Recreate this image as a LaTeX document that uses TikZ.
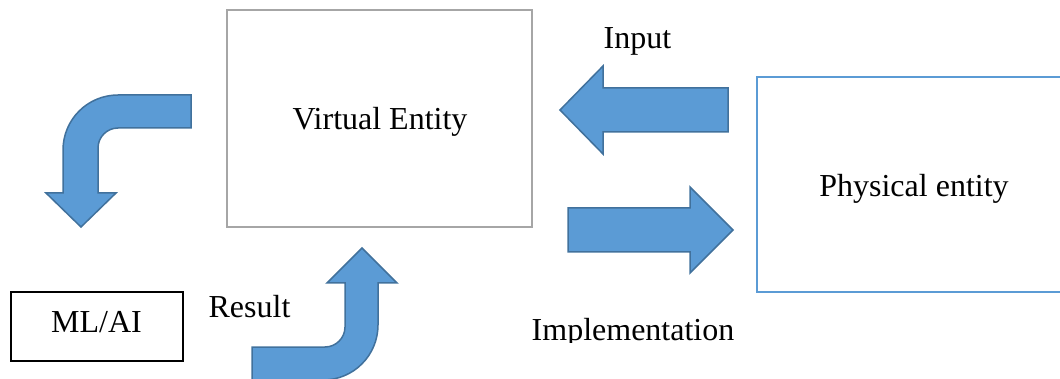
\documentclass[tikz,border=0pt]{standalone}
\usepackage{fontspec}
\setmainfont{Liberation Serif}
\definecolor{arrfill}{HTML}{5B9BD5}
\definecolor{arrline}{HTML}{41719C}
\definecolor{boxgray}{HTML}{A6A6A6}
\definecolor{boxblue}{HTML}{5B9BD5}
\begin{document}
\begin{tikzpicture}[x=1pt,y=-1pt,
  lbl/.style={font=\fontsize{32}{38}\selectfont, inner sep=0pt},
  blockarrow/.style={fill=arrfill, draw=arrline, line width=1.5pt, line join=miter},
  entitybox/.style={draw, inner sep=0pt}]
\useasboundingbox (0,0) rectangle (1060,379);
% boxes
\node[entitybox, draw=boxgray, line width=2.5pt, minimum width=305pt, minimum height=217pt] (virt) at (379.5,118.5) {};
\node[entitybox, draw=boxblue, line width=2.5pt, minimum width=314pt, minimum height=215pt] (phys) at (914,184.5) {};
\node[entitybox, draw=black, line width=1.5pt, minimum width=172pt, minimum height=69pt] (ml) at (97,326.5) {};
% box texts
\node[lbl, anchor=base] (virttext) at (380,130) {Virtual Entity};
\node[lbl, anchor=base] (phystext) at (914,197) {Physical entity};
\node[lbl, anchor=base] (mltext) at (96.5,332) {ML/AI};
% labels
\node[lbl, anchor=base] (input) at (637.5,49) {Input};
\node[lbl, anchor=base] (result) at (249.5,318) {Result};
\begin{scope}
\clip (500,300) rectangle (760,342);
\node[lbl, anchor=base] (impl) at (633,340) {Implementation};
\end{scope}
% straight block arrows
\draw[blockarrow] (728,88) -- (603,88) -- (603,66) -- (560,110) -- (603,154) -- (603,132) -- (728,132) -- cycle;
\draw[blockarrow] (568,208) -- (690,208) -- (690,187) -- (733,230) -- (690,273) -- (690,252) -- (568,252) -- cycle;
% bent arrow top-left
\draw[blockarrow] (191,95) -- (118,95) .. controls (87.6,95) and (63,119.6) .. (63,150)
  -- (63,193) -- (46,193) -- (81,227) -- (116,193) -- (98,193) -- (98,148)
  .. controls (98,137) and (107,128) .. (118,128) -- (191,128) -- cycle;
% bent arrow bottom
\draw[blockarrow] (252,347) -- (325,347) .. controls (336,347) and (345,338) .. (345,327)
  -- (345,283) -- (327,283) -- (362,248) -- (397,283) -- (378,283) -- (378,325)
  .. controls (378,355.4) and (353.4,380) .. (323,380) -- (252,380) -- cycle;
\end{tikzpicture}
\end{document}
